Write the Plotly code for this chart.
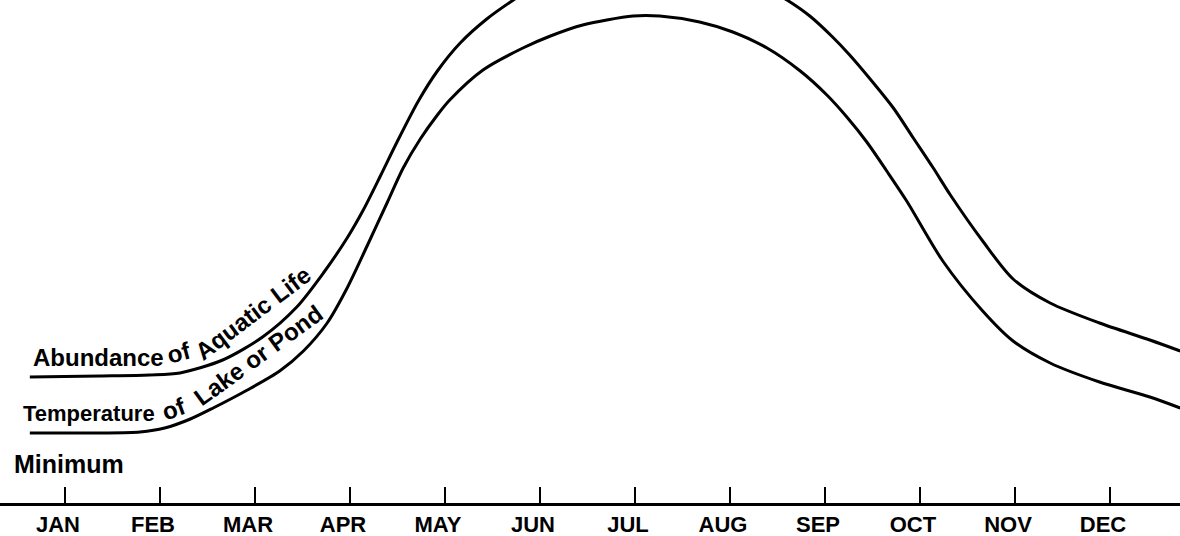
from __future__ import annotations

import plotly.graph_objects as go

# month positions: JAN = 1 ... DEC = 12 (fractional values sit between ticks)
MONTHS = ["JAN", "FEB", "MAR", "APR", "MAY", "JUN",
          "JUL", "AUG", "SEP", "OCT", "NOV", "DEC"]
MONTH_POS = list(range(1, 13))

# relative level above the "Minimum" baseline (arbitrary units)
life_x = [0.63, 1.37, 1.89, 2.21, 2.66, 3.08, 3.44, 3.72, 3.97, 4.14,
          4.32, 4.49, 4.72, 4.92, 5.16, 5.44, 5.72, 6.00, 6.32, 6.63,
          7.05, 7.47, 7.89, 8.32, 8.60, 8.84, 9.08, 9.26, 9.51, 9.72,
          9.93, 10.14, 10.32, 10.66, 10.98, 11.37, 11.89, 12.42, 12.74]
life_y = [126, 127, 128, 130, 143, 166, 196, 230, 265, 293,
          327, 360, 402, 432, 460, 484, 503, 520, 535, 545,
          550, 548, 538, 518, 503, 487, 466, 448, 420, 395,
          365, 335, 308, 262, 224, 200, 180, 163, 152]

temp_x = [0.63, 1.37, 1.79, 2.05, 2.32, 2.56, 2.92, 3.26, 3.51, 3.76,
          3.97, 4.18, 4.39, 4.56, 4.74, 4.92, 5.05, 5.40, 5.82, 6.11,
          6.45, 6.98, 7.26, 7.68, 8.03, 8.39, 8.74, 9.02, 9.23, 9.44,
          9.65, 9.86, 10.24, 10.66, 10.98, 11.37, 11.89, 12.42, 12.74]
temp_y = [70, 70, 71, 75, 84, 95, 113, 132, 152, 180,
          215, 257, 300, 335, 364, 388, 403, 433, 455, 467,
          478, 487, 487, 481, 471, 455, 432, 408, 386, 361,
          332, 302, 242, 192, 162, 140, 121, 106, 95]

FONT = "Liberation Sans, Arial, Helvetica, sans-serif"


def add_label(fig: go.Figure, text: str, x: float, y: float, angle: float = 0,
              size: int = 24, xanchor: str = "center") -> None:
    fig.add_annotation(
        text=f"<b>{text}</b>",
        x=x,
        y=y,
        xref="x",
        yref="y",
        xanchor=xanchor,
        yanchor="middle",
        textangle=angle,
        showarrow=False,
        font={"family": FONT, "size": size, "color": "black"},
    )


fig = go.Figure()

for xs, ys, name in [(life_x, life_y, "Abundance of Aquatic Life"),
                     (temp_x, temp_y, "Temperature of Lake or Pond")]:
    fig.add_trace(
        go.Scatter(
            x=xs,
            y=ys,
            mode="lines",
            name=name,
            line={"color": "black", "width": 3, "shape": "spline", "smoothing": 0.8},
            hoverinfo="skip",
        )
    )

# curve labels, written along the rising part of each curve
add_label(fig, "Abundance", 1.35, 146)
add_label(fig, "of", 2.2, 151, angle=-15)
add_label(fig, "Aquatic Life", 2.97, 190, angle=-37)

add_label(fig, "Temperature", 1.25, 90, size=22)
add_label(fig, "of", 2.15, 95, angle=-20)
add_label(fig, "Lake or Pond", 3.03, 148, angle=-36)

add_label(fig, "Minimum", 0.44, 39, size=25, xanchor="left")

fig.update_layout(
    width=1180,
    height=536,
    margin={"l": 0, "r": 0, "t": 0, "b": 33},
    paper_bgcolor="white",
    plot_bgcolor="white",
    showlegend=False,
    xaxis={
        "range": [0.316, 12.737],
        "tickvals": MONTH_POS,
        "ticktext": [f"<b>{m}</b>" for m in MONTHS],
        "tickfont": {"family": FONT, "size": 22, "color": "black"},
        "ticks": "inside",
        "ticklen": 16,
        "tickwidth": 2,
        "tickcolor": "black",
        "ticklabelshift": -7,
        "showline": True,
        "linecolor": "black",
        "linewidth": 3,
        "showgrid": False,
        "zeroline": False,
        "automargin": False,
        "fixedrange": True,
    },
    yaxis={
        "range": [0, 503],
        "visible": False,
        "showgrid": False,
        "zeroline": False,
        "fixedrange": True,
    },
)

# drop the browser's default page margin so the figure sits at the window corner
fig.write_html(
    "out.html",
    config={"displayModeBar": False},
    post_script="document.body.style.margin='0';document.body.style.overflow='hidden';",
)
